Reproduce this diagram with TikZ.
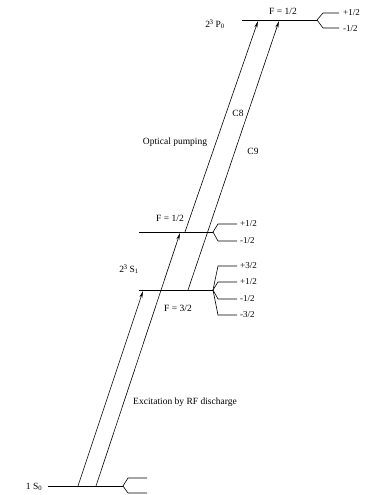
\documentclass[tikz,border=0pt]{standalone}
\usepackage{fontspec}
\setmainfont{Liberation Serif}
\usetikzlibrary{arrows.meta}
\newcommand{\upthree}{\kern-0.5pt\raisebox{3pt}{\fontsize{7}{8}\selectfont 3}}
\begin{document}
\begin{tikzpicture}[x=1pt,y=-1pt,
  lvl/.style={line width=0.8pt},
  thin/.style={line width=0.6pt},
  arr/.style={line width=0.6pt,-{Stealth[length=7pt,width=3pt]}},
  lbl/.style={font=\fontsize{9.5}{10}\selectfont,inner sep=0pt},
  mlbl/.style={font=\fontsize{9}{10}\selectfont,inner sep=0pt,anchor=west}]
\useasboundingbox (0,0) rectangle (370,495);
% level end points
\coordinate (g1) at (48,486); \coordinate (g2) at (123,486);
\coordinate (a1) at (139,232); \coordinate (a2) at (213,232);
\coordinate (b1) at (139,290); \coordinate (b2) at (213,290);
\coordinate (p1) at (242,20); \coordinate (p2) at (317,20);
\draw[lvl] (g1) -- (g2);
\draw[lvl] (a1) -- (a2);
\draw[lvl] (b1) -- (b2);
\draw[lvl] (p1) -- (p2);
% forks
\draw[thin] (g2) -- (128,478) -- (147,478);
\draw[thin] (g2) -- (128,493) -- (147,493);
\draw[thin] (p2) -- (323,13) -- (339,13);
\draw[thin] (p2) -- (323,28) -- (339,28);
\draw[thin] (a2) -- (218,224) -- (237,224);
\draw[thin] (a2) -- (218,241) -- (237,241);
\draw[thin] (b2) -- (218,266) -- (237,266);
\draw[thin] (b2) -- (218,282) -- (237,282);
\draw[thin] (b2) -- (218,299) -- (237,299);
\draw[thin] (b2) -- (218,315) -- (237,315);
% transitions
\coordinate (e1s) at (78,486);  \coordinate (e1t) at (143,291);
\coordinate (e2s) at (96,486);  \coordinate (e2t) at (180,233);
\coordinate (o1s) at (185,232); \coordinate (o1t) at (258,21);
\coordinate (o2s) at (188,290); \coordinate (o2t) at (279,21);
\draw[arr] (e1s) -- (e1t);
\draw[arr] (e2s) -- (e2t);
\draw[arr] (o1s) -- (o1t);
\draw[arr] (o2s) -- (o2t);
% labels
\node[lbl] (lg) at (34,487) {1 S\textsubscript{0}};
\node[lbl] (ls) at (129,269) {2\upthree\ S\textsubscript{1}};
\node[lbl] (lp) at (215,24) {2\upthree\ P\textsubscript{0}};
\node[lbl] (fp) at (283,11) {F = 1/2};
\node[lbl] (fa) at (170,218) {F = 1/2};
\node[lbl] (fb) at (178,308) {F = 3/2};
\node[mlbl] (m1) at (343,13) {+1/2};
\node[mlbl] (m2) at (343,29) {-1/2};
\node[mlbl] (m3) at (240,224) {+1/2};
\node[mlbl] (m4) at (240,241) {-1/2};
\node[mlbl] (m5) at (240,266) {+3/2};
\node[mlbl] (m6) at (240,282) {+1/2};
\node[mlbl] (m7) at (240,299) {-1/2};
\node[mlbl] (m8) at (240,315) {-3/2};
\node[lbl] (op) at (175,142) {Optical pumping};
\node[lbl] (c8) at (238,113) {C8};
\node[lbl] (c9) at (253,151) {C9};
\node[lbl] (ex) at (185,402) {Excitation by RF discharge};
\end{tikzpicture}
\end{document}
